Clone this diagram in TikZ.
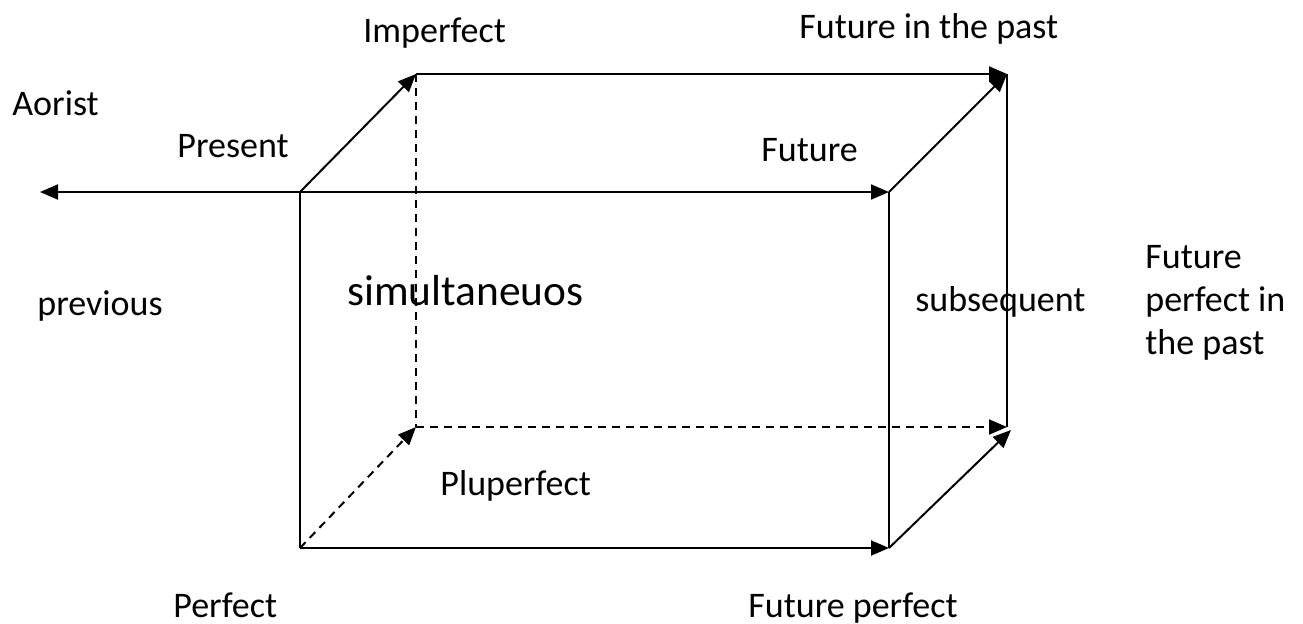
\documentclass[tikz,border=0pt]{standalone}
\usepackage{fontspec}
\setmainfont{Carlito}
\usetikzlibrary{arrows.meta}
\tikzset{
  edge/.style={line width=1pt, -{Triangle[length=9pt,width=7.5pt]}},
  plain/.style={line width=1pt},
  hidden/.style={dash pattern=on 4pt off 3pt},
  lbl/.style={inner sep=0pt, anchor=base west, font=\fontsize{18}{21.5}\selectfont}
}
\begin{document}
\begin{tikzpicture}[x=0.5pt,y=-0.5pt]
    \useasboundingbox (0,0) rectangle (1303,623);
    %coins du cube
    \coordinate (ftl) at (300,192);
    \coordinate (ftr) at (889,192);
    \coordinate (fbr) at (889,548);
    \coordinate (fbl) at (300,548);
    \coordinate (btl) at (416,74);
    \coordinate (btr) at (1007,74);
    \coordinate (bbr) at (1007,427);
    \coordinate (bbl) at (416,427);
    \coordinate (bbr2) at (1011,430);
    \coordinate (past) at (40,192);
    %face avant
    \draw[edge] (ftl)--(past);
    \draw[edge] (ftl)--(ftr);
    \draw[plain] (ftl)--(fbl);
    \draw[plain] (ftr)--(fbr);
    \draw[edge] (fbl)--(fbr);
    %face arriere
    \draw[edge] (btl)--(btr);
    \draw[plain] (btr)--(bbr);
    \draw[plain,hidden] (btl)--(bbl);
    \draw[edge,hidden] (bbl)--(bbr);
    %aretes obliques
    \draw[edge] (ftl)--(btl);
    \draw[edge] (ftr)--(btr);
    \draw[edge] (fbr)--(bbr2);
    \draw[edge,hidden] (fbl)--(bbl);
    %temps
    \node[lbl] (imperfect) at (363,42) {Imperfect};
    \node[lbl] (futpast) at (799,38) {Future in the past};
    \node[lbl] (aorist) at (12,115) {Aorist};
    \node[lbl] (present) at (177,157) {Present};
    \node[lbl] (future) at (761,161) {Future};
    \node[lbl] (previous) at (37,315) {previous};
    \node[lbl,font=\fontsize{21.7}{26}\selectfont] (simult) at (347,305) {simultaneuos};
    \node[lbl] (subseq) at (915,311) {subsequent};
    \node[lbl,anchor=north west,align=left] (futperfpast) at (1145,245) {Future\\perfect in\\the past};
    \node[lbl] (pluperfect) at (440,495) {Pluperfect};
    \node[lbl] (perfect) at (173,617) {Perfect};
    \node[lbl] (futperf) at (748,617) {Future perfect};
\end{tikzpicture}
\end{document}
